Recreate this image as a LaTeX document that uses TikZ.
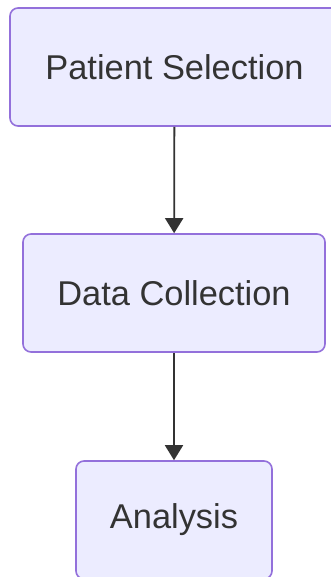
\documentclass[tikz,border=0pt]{standalone}
\usepackage{fontspec}
\setmainfont{Liberation Sans}
\usetikzlibrary{arrows.meta}

\definecolor{stagefill}{HTML}{ECECFF}
\definecolor{stageline}{HTML}{9370DB}
\definecolor{ink}{HTML}{333333}

\begin{document}
\begin{tikzpicture}[x=1pt, y=1pt,
    stage/.style={rectangle, rounded corners=8pt, draw=stageline, line width=1.6pt,
      fill=stagefill, text=ink, minimum height=118pt, inner sep=0pt,
      font=\fontsize{34.4}{40}\selectfont},
    flow/.style={draw=ink, line width=1.8pt, -{Triangle[length=15pt, width=18pt]}}]
  \useasboundingbox (0,0) rectangle (330,-577);

  % The three stages, top to bottom
  \node[stage, minimum width=329pt] (selection) at (174.5,-67) {Patient Selection};
  \node[stage, minimum width=302pt] (collection) at (174,-293) {Data Collection};
  \node[stage, minimum width=196pt] (analysis) at (174,-520) {Analysis};

  % Arrows between the stages
  \draw[flow] (selection) -- (collection);
  \draw[flow] (collection) -- (analysis);

\end{tikzpicture}
\end{document}
